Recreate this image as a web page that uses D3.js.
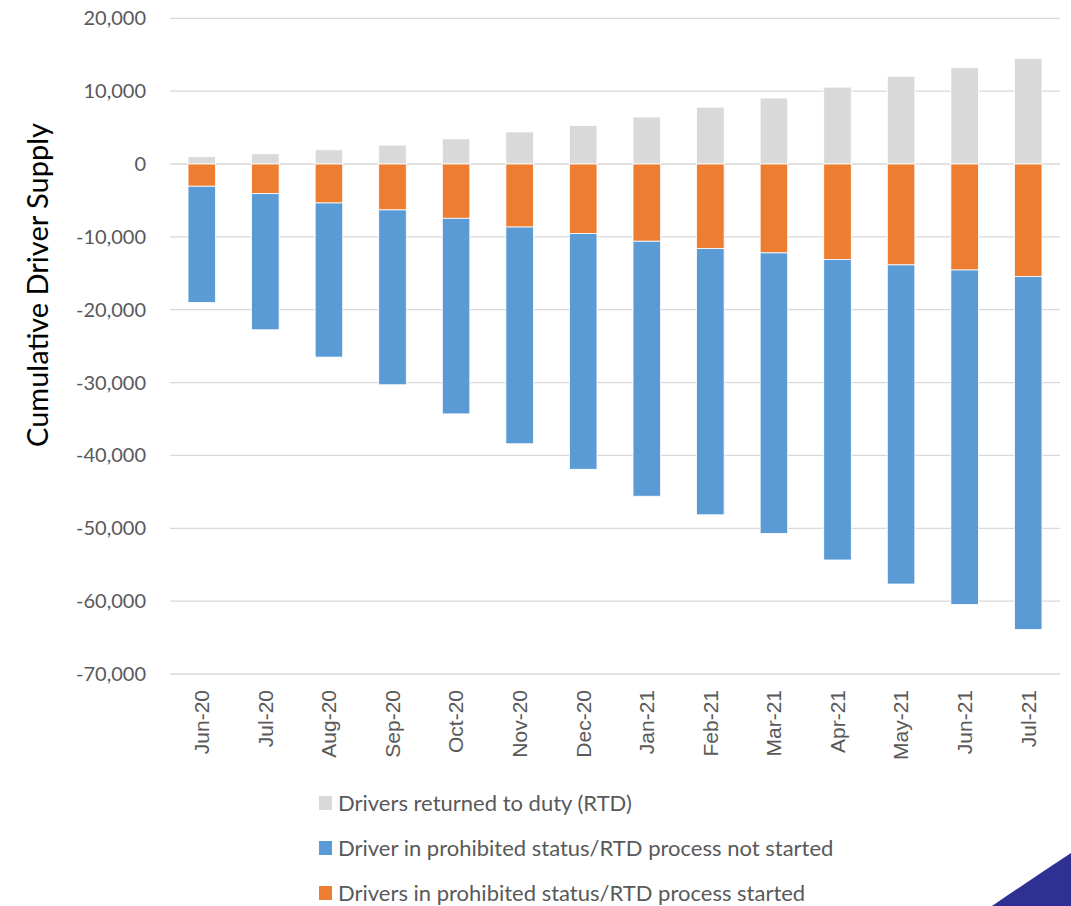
<!DOCTYPE html>
<html lang="en">
<head>
<meta charset="utf-8">
<title>Cumulative Driver Supply</title>
<script src="https://d3js.org/d3.v7.min.js"></script>
<style>
  body { margin: 0; background: #fff; }
  svg { display: block; }
</style>
</head>
<body>
<script>
const months = ["Jun-20","Jul-20","Aug-20","Sep-20","Oct-20","Nov-20","Dec-20",
                "Jan-21","Feb-21","Mar-21","Apr-21","May-21","Jun-21","Jul-21"]
// returned to duty (positive)
const rtd = [1000,1400,1950,2600,3450,4400,5300,6450,7800,9050,10550,12050,13250,14500]
// prohibited, RTD process started (negative, first below zero)
const started = [-3050,-4070,-5350,-6300,-7450,-8650,-9550,-10600,-11600,-12200,-13100,-13850,-14550,-15450]
// prohibited, RTD process not started (negative, stacked below started)
const notStarted = [-15950,-18680,-21150,-24000,-26850,-29750,-32350,-35000,-36550,-38500,-41250,-43800,-45900,-48450]
const yTicks = [20000,10000,0,-10000,-20000,-30000,-40000,-50000,-60000,-70000]
const legendLabels = ["Drivers returned to duty (RTD)",
                      "Driver in prohibited status/RTD process not started",
                      "Drivers in prohibited status/RTD process started"]
const colors = ["#D9D9D9", "#5B9BD5", "#ED7D31"]

const W = 1071, H = 906
const plotL = 170, plotR = 1060, plotT = 18.3, plotB = 674

const svg = d3.select("body").append("svg")
  .attr("width", W).attr("height", H)

const x = d3.scaleBand().domain(months).range([plotL, plotR])
  .paddingInner(0.567).paddingOuter(0.2835)
const y = d3.scaleLinear().domain([-70000, 20000]).range([plotB, plotT])

// gridlines
svg.append("g").selectAll("line").data(yTicks).enter().append("line")
  .attr("x1", plotL).attr("x2", plotR)
  .attr("y1", d => y(d)).attr("y2", d => y(d))
  .attr("stroke", "#D9D9D9").attr("stroke-width", 1.3)

// y axis labels (hyphen minus like the original)
const fmt = d3.formatLocale({decimal: ".", thousands: ",", grouping: [3], currency: ["", ""], minus: "-"}).format(",")
svg.append("g").selectAll("text").data(yTicks).enter().append("text")
  .attr("x", 146).attr("y", d => y(d))
  .attr("dy", "0.35em")
  .attr("text-anchor", "end")
  .attr("fill", "#595959")
  .style("font-family", "Lato, 'Open Sans', sans-serif")
  .style("font-size", "20px")
  .text(d => fmt(d))

const bars = svg.append("g")
const drawSeries = (vals, base, color) => {
  bars.append("g").selectAll("rect").data(months).enter().append("rect")
    .attr("x", d => x(d))
    .attr("width", x.bandwidth())
    .attr("y", (d, i) => y(Math.max(base[i], base[i] + vals[i])))
    .attr("height", (d, i) => Math.abs(y(base[i] + vals[i]) - y(base[i])))
    .attr("fill", color)
    .attr("stroke", "#fff").attr("stroke-width", 0.8)
}
const zeros = months.map(() => 0)
drawSeries(rtd, zeros, colors[0])
drawSeries(started, zeros, colors[2])
drawSeries(notStarted, started, colors[1])

// x labels rotated
svg.append("g").selectAll("text").data(months).enter().append("text")
  .attr("transform", d => `translate(${x(d) + x.bandwidth() / 2},690) rotate(-90)`)
  .attr("dy", "0.35em")
  .attr("text-anchor", "end")
  .attr("fill", "#595959")
  .style("font-family", "'Liberation Sans', Arial, sans-serif")
  .style("font-size", "21px")
  .text(d => d)

// y axis title
svg.append("text")
  .attr("transform", "translate(38,285) rotate(-90)")
  .attr("dy", "0.35em")
  .attr("text-anchor", "middle")
  .attr("fill", "#000")
  .style("font-family", "Lato, 'Open Sans', sans-serif")
  .style("font-size", "29px")
  .text("Cumulative Driver Supply")

// legend
const lg = svg.append("g").selectAll("g").data(legendLabels).enter().append("g")
  .attr("transform", (d, i) => `translate(319,${803 + i * 45})`)
lg.append("rect").attr("x", 0).attr("y", -7).attr("width", 13).attr("height", 14)
  .attr("fill", (d, i) => colors[i])
lg.append("text").attr("x", 19).attr("dy", "0.35em")
  .attr("fill", "#595959")
  .style("font-family", "Lato, 'Open Sans', sans-serif")
  .style("font-size", "22px")
  .text(d => d)

// corner decoration
svg.append("path")
  .attr("d", "M992,906 Q1030,880 1071,853 L1071,906 Z")
  .attr("fill", "#2E3192")
</script>
</body>
</html>
